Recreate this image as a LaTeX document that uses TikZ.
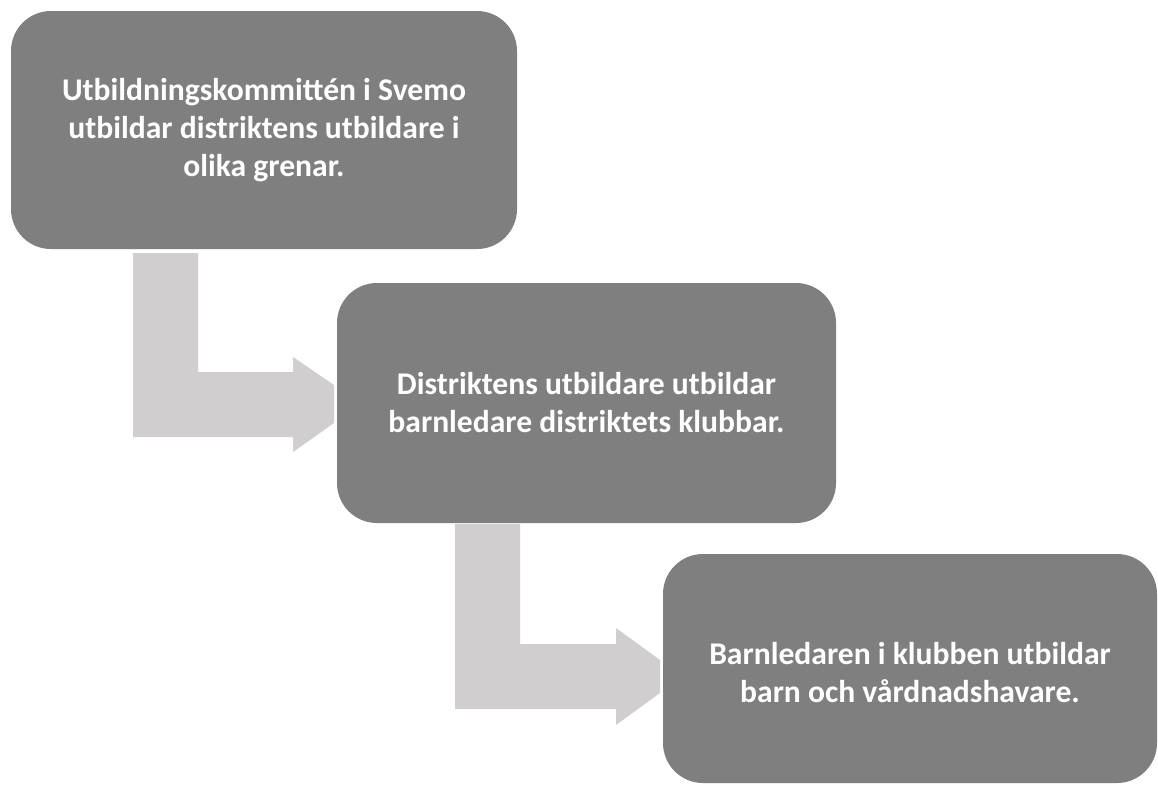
\documentclass[tikz,border=0pt]{standalone}
\usepackage{fontspec}
\setmainfont{Carlito}
\definecolor{boxgray}{HTML}{7F7F7F}
\definecolor{arrowgray}{HTML}{D0CECE}
\begin{document}
\begin{tikzpicture}[x=1pt,y=-1pt,
  stepbox/.style={rectangle, rounded corners=40pt, fill=boxgray, draw=none,
    text=white, align=center, inner sep=0pt,
    font=\fontsize{31.6}{38}\selectfont\bfseries},
  blockarrow/.style={fill=arrowgray, draw=none}]
\useasboundingbox (0,0) rectangle (1158,785);
\fill[white] (0,0) rectangle (1158,785);
% bent block arrows
\fill[blockarrow] (133,253) -- (198,253) -- (198,372) -- (293,372) -- (293,357)
  -- (334,385) -- (334,423) -- (293,452) -- (293,437) -- (133,437) -- cycle;
\fill[blockarrow] (455,524) -- (520,524) -- (520,644) -- (616,644) -- (616,628)
  -- (660,660) -- (660,693) -- (616,725) -- (616,709) -- (455,709) -- cycle;
% boxes
\node[stepbox, minimum width=506pt, minimum height=238pt] (b1) at (264,130)
  {Utbildningskommittén i Svemo\\utbildar distriktens utbildare i\\olika grenar.};
\node[stepbox, minimum width=499pt, minimum height=240pt] (b2) at (586.5,403)
  {Distriktens utbildare utbildar\\barnledare distriktets klubbar.};
\node[stepbox, minimum width=494pt, minimum height=229pt] (b3) at (910,668.5)
  {\raisebox{-7pt}[\height][\depth]{\begin{tabular}{@{}c@{}}Barnledaren i klubben utbildar\\barn och vårdnadshavare.\end{tabular}}};
\end{tikzpicture}
\end{document}
